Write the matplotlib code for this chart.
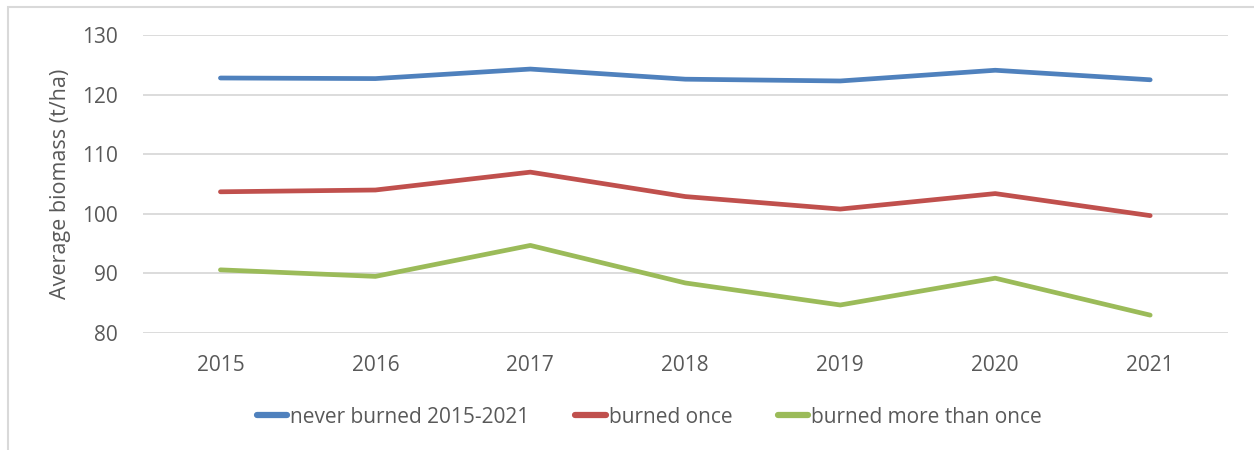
import matplotlib
matplotlib.use('Agg')
import matplotlib.pyplot as plt
from matplotlib.patches import Rectangle

years = ['2015', '2016', '2017', '2018', '2019', '2020', '2021']
never_burned = [122.8, 122.7, 124.3, 122.6, 122.3, 124.1, 122.5]
burned_once = [103.7, 104.0, 107.0, 102.9, 100.8, 103.4, 99.7]
burned_more = [90.6, 89.5, 94.7, 88.4, 84.7, 89.2, 83.0]

series_labels = ['never burned 2015-2021', 'burned once', 'burned more than once']
colors = ['#4F81BD', '#C0504D', '#9BBB59']

plt.rcParams['font.family'] = ['Open Sans', 'DejaVu Sans']

fig = plt.figure(figsize=(12.54, 4.5), dpi=100)
ax = fig.add_axes([0.114, 0.26, 0.865, 0.662])

# chart frame (partly cut off in the original)
fig.patches.append(Rectangle((8 / 1254, -0.1), 1.2, 1 - 7 / 450 + 0.1,
                             transform=fig.transFigure, facecolor='none',
                             edgecolor='#d9d9d9', linewidth=1.5))

x = range(len(years))
for vals, lab, c in zip([never_burned, burned_once, burned_more], series_labels, colors):
    ax.plot(x, vals, color=c, linewidth=3.4, solid_capstyle='round',
            solid_joinstyle='round', label=lab, zorder=3)

ax.set_xlim(-0.5, len(years) - 0.5)
ax.set_ylim(80, 130)
ax.set_yticks(range(80, 131, 10))
ax.set_xticks(list(x))
ax.set_xticklabels(years)
ax.grid(axis='y', color='#d9d9d9', linewidth=1.3, zorder=0)
for s in ax.spines.values():
    s.set_visible(False)
ax.tick_params(length=0, labelsize=15, colors='#595959')
ax.tick_params(axis='x', pad=16)
ax.tick_params(axis='y', pad=18)
ax.set_ylabel('Average biomass (t/ha)', fontsize=15.5, color='#595959', labelpad=8)

leg = fig.legend(loc='center', bbox_to_anchor=(0.518, 0.073), ncol=3, frameon=False,
                 fontsize=15, handlelength=1.45, handletextpad=0.15, columnspacing=2.2)
for t in leg.get_texts():
    t.set_color('#595959')
for h in leg.get_lines():
    h.set_linewidth(4.5)
    h.set_solid_capstyle('round')

fig.savefig('out.png', dpi=100, facecolor='white')
